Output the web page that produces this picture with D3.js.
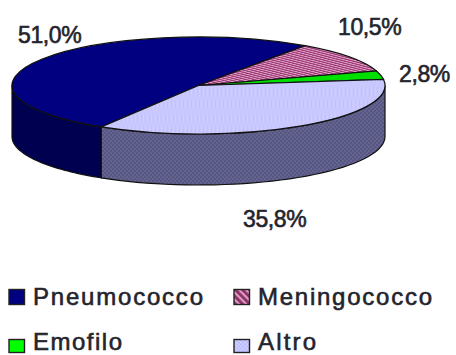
<!DOCTYPE html>
<html>
<head>
<meta charset="utf-8">
<script src="https://cdn.jsdelivr.net/npm/d3@7/dist/d3.min.js"></script>
<style>
  html, body { margin: 0; padding: 0; background: #fff; }
  svg { display: block; }
  text { font-family: "Liberation Sans", Arial, sans-serif; fill: #24242c; stroke: #24242c; stroke-width: 0.6px; }
</style>
</head>
<body>
<svg id="chart" width="456" height="355"></svg>
<script>
// Share of cases per pathogen (%)
const categories = ["Pneumococco", "Meningococco", "Emofilo", "Altro"];
const shares = [51.0, 10.5, 2.8, 35.8];
const topFills = ["#000080", "url(#stripes)", "#00e000", "url(#dots)"];
const sideFills = ["#000050", "url(#stripesDark)", "#009900", "url(#dotsDark)"];
const legendFills = ["#000080", "url(#legendStripes)", "#00ff00", "url(#dots)"];

const cx = 198.5, cy = 85.5, rx = 186.5, ry = 48.5, depth = 51;
const firstSliceStart = 211.4 * Math.PI / 180;

const svg = d3.select("#chart");
const defs = svg.append("defs");

function stripePattern(id, back, line, size, width) {
  const p = defs.append("pattern").attr("id", id)
    .attr("patternUnits", "userSpaceOnUse")
    .attr("width", size).attr("height", size)
    .attr("patternTransform", "rotate(-45)");
  p.append("rect").attr("width", size).attr("height", size).attr("fill", back);
  p.append("rect").attr("width", width).attr("height", size).attr("fill", line);
}
stripePattern("stripes", "#dc9cc0", "#9c3a78", 6, 3.2);
stripePattern("stripesDark", "#733f5c", "#4d1933", 6, 3.2);
stripePattern("legendStripes", "#dc9cc0", "#8c2f66", 5, 2.8);

function dotPattern(id, back, dot) {
  const p = defs.append("pattern").attr("id", id)
    .attr("patternUnits", "userSpaceOnUse").attr("width", 4).attr("height", 4);
  p.append("rect").attr("width", 4).attr("height", 4).attr("fill", back);
  p.append("circle").attr("cx", 1).attr("cy", 1).attr("r", 0.9).attr("fill", dot);
  p.append("circle").attr("cx", 3).attr("cy", 3).attr("r", 0.9).attr("fill", dot);
}
dotPattern("dots", "#d0d0ff", "#b0b0ff");
dotPattern("dotsDark", "#64648f", "#50507f");

const slices = d3.pie().sort(null).value(d => d)
  .startAngle(firstSliceStart)
  .endAngle(firstSliceStart + 2 * Math.PI)(shares);

// Angles run clockwise from twelve o'clock, flattened onto the ellipse
const px = a => cx + rx * Math.sin(a);
const py = a => cy - ry * Math.cos(a);

// Outer wall of the disc between two angles on its visible lower half
const wallPath = (a0, a1) => {
  const rim = d3.range(0, 41).map(i => a0 + (a1 - a0) * i / 40);
  const p = d3.path();
  rim.forEach((a, i) => i ? p.lineTo(px(a), py(a)) : p.moveTo(px(a), py(a)));
  rim.slice().reverse().forEach(a => p.lineTo(px(a), py(a) + depth));
  p.closePath();
  return p.toString();
};

const lo = Math.PI / 2, hi = 3 * Math.PI / 2;
const wallParts = [];
slices.forEach((s, i) => {
  [0, 2 * Math.PI].forEach(shift => {
    const a0 = Math.max(s.startAngle - shift, lo);
    const a1 = Math.min(s.endAngle - shift, hi);
    if (a1 > a0) wallParts.push({ i, a0, a1 });
  });
});

svg.append("g").selectAll("path").data(wallParts).join("path")
  .attr("d", d => wallPath(d.a0, d.a1))
  .attr("fill", d => sideFills[d.i])
  .attr("stroke", "#111")
  .attr("stroke-width", 1.2);

// Top face: a regular d3 arc squashed vertically
const arc = d3.arc().innerRadius(0).outerRadius(rx);
svg.append("g")
  .attr("transform", `translate(${cx},${cy}) scale(1,${ry / rx})`)
  .selectAll("path").data(slices).join("path")
  .attr("d", arc)
  .attr("fill", (d, i) => topFills[i])
  .attr("stroke", "#111")
  .attr("stroke-width", 1.2)
  .attr("vector-effect", "non-scaling-stroke");

// Value labels
const fmt = v => v.toFixed(1).replace(".", ",") + "%";
const labelSpots = [[18, 43], [338, 35], [399, 82], [243, 227]];
svg.append("g").selectAll("text").data(shares).join("text")
  .attr("x", (d, i) => labelSpots[i][0])
  .attr("y", (d, i) => labelSpots[i][1])
  .attr("font-size", 23)
  .attr("letter-spacing", "-0.4")
  .text(fmt);

// Legend, two rows of two
const legendCols = [9, 234], legendRows = [304.5, 349.5];
const swatchTops = [-15, -15, -10, -10];
const swatchHeights = [15, 15, 13, 13];
const legendWidths = [170, 174, 89, 58];
const legend = svg.append("g").selectAll("g").data(categories).join("g")
  .attr("transform", (d, i) => `translate(${legendCols[i % 2]},${legendRows[Math.floor(i / 2)]})`);
legend.append("rect")
  .attr("y", (d, i) => swatchTops[i]).attr("width", 15.5)
  .attr("height", (d, i) => swatchHeights[i])
  .attr("fill", (d, i) => legendFills[i])
  .attr("stroke", "#222").attr("stroke-width", 1.4);
legend.append("text")
  .attr("x", 24)
  .attr("font-size", 24)
  .attr("textLength", (d, i) => legendWidths[i])
  .attr("lengthAdjust", "spacing")
  .text(d => d);
</script>
</body>
</html>
